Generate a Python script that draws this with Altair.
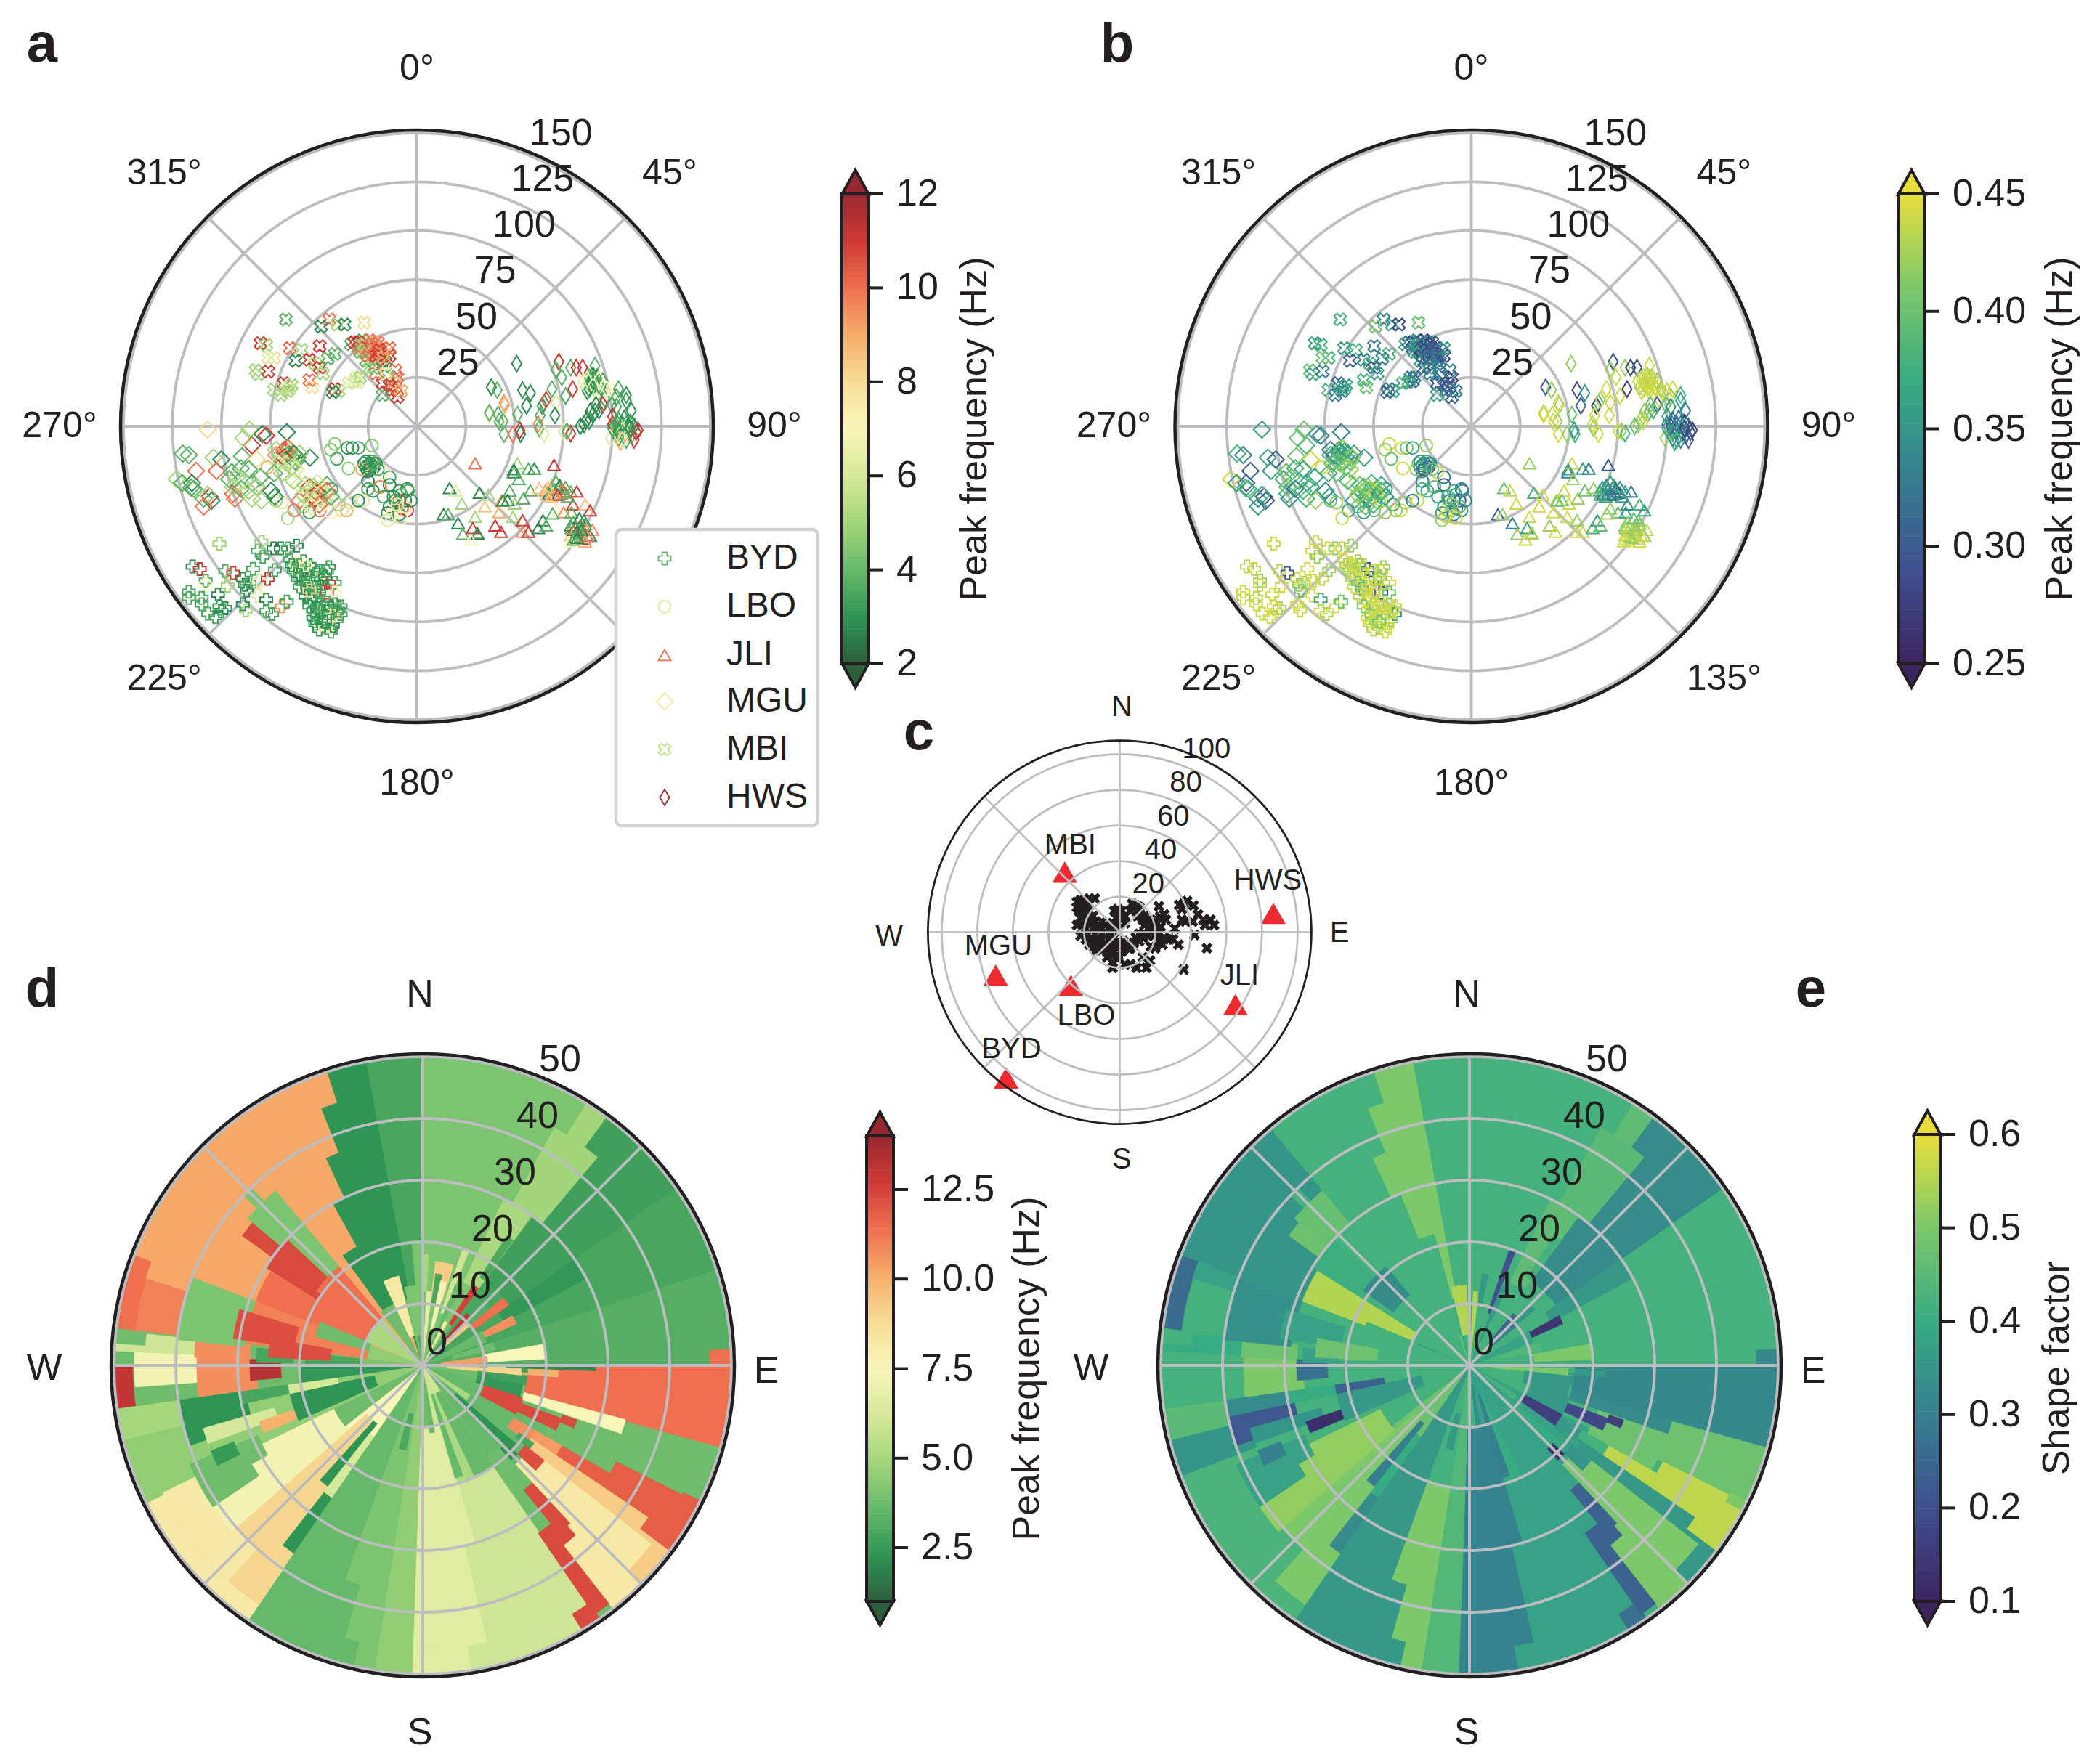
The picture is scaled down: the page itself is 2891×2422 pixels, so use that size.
import math
import numpy as np
import pandas as pd
import altair as alt

W, H = 2891, 2422
FONT = "Liberation Sans"
INK = "#231f20"
GRID = "#bcbdc0"

PF_RAMP = ["#2c5e3c","#2f9555","#66b96a","#a3d67a","#d6e89a","#f7f5b8","#f6dd95","#f6ad6a","#ef6f4f","#ce3a36","#96282f"]
SF_RAMP = ["#3b2560","#40508f","#357f8f","#37ab82","#7cc86a","#e8df3c"]

# station, east, north (distance units of the radial axis), peak frequency, shape factor
BYD = [(-101,-60,5,.44),(-114.7,-71.7,2.8,.43),(-111,-73,11,.44),(-94,-75,11,.30),(-98,-74,3.8,.44),(-108,-79,3.5,.42),(-108,-81,7,.44),
(-116.6,-84.6,3.5,.44),(-116.6,-87.7,3.5,.44),(-110,-87.7,3.5,.43),(-110,-91,3.5,.44),(-101.7,-86,2.8,.44),(-96.8,-81.5,5,.44),(-83.8,-72.9,3.5,.44),
(-106.7,-95.8,3.5,.44),(-103,-97.6,3.5,.44),(-100,-94.5,3,.44),(-98,-93,3,.43),(-101,-92,3,.44),(-87.5,-94,5,.44),(-89,-91,2.8,.44),(-88,-81,2.8,.42),
(-87,-84,2.8,.40),(-89,-78,2.8,.44),(-85.6,-80,3.5,.43),(-81.3,-86.5,6.2,.44),(-80.7,-79,6.2,.44),(-76.3,-78,11,.44),(-72.6,-73.5,3.5,.42),(-77,-88.6,2.8,.38),
(-77,-94.5,3.5,.44),(-74,-96,3.5,.43),(-69,-92,9.5,.44),(-66.5,-89.6,3.5,.40),(-81.3,-63.6,3.5,.44),(-78.8,-66.7,3.5,.42),(-79.5,-59,5,.44),(-73.3,-62.4,2.8,.44),
(-69.6,-62.4,2.8,.42),(-66,-62.4,3.5,.44),(-61.5,-61,2.8,.42),
(-65,-68,3.5,.44),(-62,-70,7,.44),(-58,-69,3.5,.43),(-55,-71,3,.44),(-63,-74,3.5,.42),(-59,-73,8,.44),(-56,-75,3.5,.44),(-53,-73,3,.30),(-50,-74,3.5,.44),
(-61,-78,3.5,.43),(-57,-78,3,.44),(-53,-78,8,.44),(-49,-78,3.5,.28),(-60,-82,3.5,.44),(-56,-83,3,.38),(-52,-82,3.5,.44),(-48,-82,3,.44),(-57,-87,3,.43),
(-53,-86,3.5,.44),(-46,-85,11,.30),(-42,-80,3.5,.44),(-45,-72,3,.42),(-45,-80,11,.44),(-42,-85,7,.40),(-46,-74,3.5,.44),
(-54,-89,3,.44),(-50,-91,3,.43),(-46,-90,3.5,.44),(-42,-91,3,.42),(-39,-92,3.5,.44),(-53,-94,3,.44),(-49,-95,3.5,.43),(-45,-95,8,.44),(-41,-95,3,.44),(-39,-96,3.5,.36),
(-53,-98,3,.44),(-49,-100,3.5,.43),(-45,-99,3,.44),(-41,-99,3.5,.42),(-52,-101,3,.44),(-47,-103,8,.43),(-43,-102,3,.44),(-50,-94,3.5,.44),(-55,-92,3,.40),
(-64,-71,3,.43),(-60,-71,3.5,.44),(-57,-71,7,.42),(-60,-76,3,.44),(-55,-80,3.5,.44),(-51,-76,3,.43),(-58,-80,3,.40),(-50,-85,3.5,.44),(-47,-77,3,.42),(-55,-84,8,.44),
(-51,-93,3,.44),(-47,-93,3.5,.44),(-44,-93,3,.43),(-51,-97,3.5,.42),(-47,-97,3,.44),(-43,-97,8,.44),(-47,-100,3,.40),(-44,-105,3.5,.44),(-50,-104,3,.43),(-40,-94,3.5,.44)]
LBO = [(-42,-9,4.5,.44),(-44,-12,4.5,.42),(-41,-16.6,3.5,.40),(-35.5,-11,2.8,.44),(-33,-11,2.8,.40),(-30,-11,3.5,.36),(-23,-9.8,4.5,.42),(-35,-21.5,4.5,.44),(-76.4,-21,9,.44),
(-24,-19,2.8,.33),(-26,-21,3,.36),(-22,-21,2.8,.30),(-23,-18,3.5,.38),(-27,-19,2.8,.40),(-21,-19,3,.33),(-25,-23,2.8,.35),(-28,-22,9,.42),(-17.6,-23.4,7,.44),(-14,-26,3.5,.33),
(-19,-31,10,.36),(-25,-28,2.8,.33),(-14,-30,2.8,.30),(-9,-33,3,.38),(-5,-32,2.8,.33),(-12.6,-43,6.2,.44),(-9,-38,11,.36),(-7.7,-42,11,.33),(-14,-41,2.8,.33),(-15,-44.4,2.8,.36),
(-10,-43,8,.40),(-5,-43,11,.35),(-22.5,-33,2.8,.36),(-18.8,-31,9.5,.40),(-25,-32,3.5,.38),(-27.5,-38,6.2,.44),(-15,-48,6.2,.42),(-36,-43,9,.44),(-38.5,-43,8,.42),(-49.7,-43,10,.40),
(-53.5,-36,5,.38),(-62.7,-43,10,.36),(-69,-39,6.2,.42),(-66,-47,5,.44),(-72,-38,5,.40),(-43.6,-32,3.5,.36),(-46,-38,6.2,.44),(-33.7,-39,6.2,.42),(-30,-38,2.8,.33),(-4.6,-33,3.5,.33),
(-58,-41,5,.40),(-55,-44,3.5,.36),(-44,-44,7,.42),(-40,-40,5,.38),
(-25,-20,3,.33),(-24,-22,2.8,.30),(-22,-19,3.5,.36),(-26,-18,3,.35),(-20,-22,3.5,.40),(-11,-38,2.8,.33),(-8,-35,3.5,.36),(-12,-36,3,.38),(-6,-38,2.8,.30),(-13,-46,7,.44),(-9,-45,3,.33),(-6,-41,8,.40),(-10,-40,6.2,.42),(-8,-47,7,.44),(-17,-36,3.5,.36),(-3,-38,3,.33)]
JLI = [(29.7,-19,10,.42),(16.7,-31.6,2.8,.40),(19.8,-32.8,6.2,.44),(13.6,-45,2.8,.30),(16,-45,3.8,.42),(21,-49.5,2.8,.33),(23,-39.6,5,.44),(29.7,-46.4,5,.44),(23.5,-55,3.8,.42),
(28.5,-52,11,.36),(31,-54.5,3.8,.44),(31,-55,2.8,.42),(27.6,-58,7,.44),(32,-34,2.8,.38),(36.5,-35,5,.44),(34.7,-41,8.5,.44),(43.3,-38,9.5,.44),(44,-38,2.8,.40),(49.5,-23.5,2.8,.33),
(51.4,-19,5,.44),(49.5,-22,2.8,.36),(52,-27,3.8,.42),(47.4,-33,3.8,.44),(46.4,-37.7,2.8,.40),(50,-39.6,5,.44),(54.4,-37,3.8,.42),(58,-32.8,3.8,.40),(57,-21.7,3.8,.36),(60,-21.7,2.8,.33),
(70,-19.8,11,.30),(42,-44,9,.44),(49,-46.4,5,.44),(40,-50.7,11,.42),(43,-54,11,.44),(54,-48,11,.42),(54,-54,9.5,.44),(57,-54,11,.44),
(69,-30,9,.33),(72,-31.6,3.8,.36),(75,-33.4,11,.30),(76,-34,9.5,.33),(78.6,-33.4,3.8,.36),(65.6,-32.8,9.5,.38),(67.4,-34.6,2.8,.33),(71,-28,3.8,.36),(81.7,-33.4,11,.33),(62.5,-31.6,8.5,.42),
(73.6,-34.6,3.8,.33),(68.7,-36,8.5,.36),(79.8,-40,11,.34),(86,-40,8.5,.38),(88.5,-43,11,.36),(71,-42,7,.42),(75,-44,9.5,.40),(79,-44,3.8,.36),(69.3,-44.6,3.8,.42),(64.4,-48,2.8,.36),
(62,-52,2.8,.38),(66,-50.7,3.8,.40),(78.6,-50.7,2.8,.42),(81,-52,3.8,.44),(83.5,-50.7,11,.42),(85.4,-48,2.8,.40),(86.6,-53,9.5,.43),(89.7,-53,9.5,.44),(88.5,-56,2.8,.42),(85.4,-57.5,11,.44),
(78.6,-55.7,8.5,.44),(81,-56.5,2.8,.40),(78,-58.8,7,.44),(83.5,-53,3.8,.42),
(70,-32,3.8,.34),(73,-30,2.8,.36),(74,-32,10,.30),(67,-31,8.5,.36),(70,-35,9.5,.33),(76,-31,3.8,.35),(72,-35,11,.32),(66,-35,8.5,.38),(77,-36,3.8,.36),
(80,-49,3.8,.42),(82,-54,2.8,.44),(84,-55,3.8,.43),(80,-53,11,.44),(86,-50,3.8,.42),(83,-47,2.8,.40),(87,-56,10,.44),(84,-53,2.8,.42),(80,-58,3.8,.44),(86,-59,9,.44),(79,-52,3.8,.42),(82,-57,2.8,.42)]
MGU = [(-107,-1.7,8,.36),(-85.6,-1.7,5,.40),(-66.5,-3,2.8,.33),(-79,-4,2.8,.36),(-77,-4.8,11,.33),(-84.4,-9.8,11,.38),(-88.7,-6,5,.40),(-67.7,-12,11,.36),(-61.5,-16,2.8,.33),(-72,-14.7,9.5,.38),
(-54.7,-16,2.8,.35),(-89.4,-15.3,3.8,.40),(-104,-16,5,.36),(-100,-17,2.8,.30),(-119.7,-14,3.8,.38),(-116.6,-14.7,3.8,.33),(-112.9,-22.8,10,.30),(-102.4,-22.8,10,.36),(-82,-17,8,.44),(-94.6,-23.4,3.8,.40),
(-90,-21.5,3.8,.38),(-86,-22,3.8,.36),(-122.8,-27,5,.44),(-120,-29,5,.44),(-115,-29,2.8,.30),(-115.4,-31.4,3.8,.38),(-106,-36,11,.28),
(-68,-13,11,.36),(-66,-15,3.8,.38),(-70,-15,5,.33),(-64,-16,2.8,.36),(-62,-18,3.8,.40),(-60,-14,5,.38),(-66,-11,10,.42),(-72,-12,5,.33),
(-55,-31,11,.38),(-52,-33,5,.42),(-49,-32,6.2,.44),(-54,-36,10,.36),(-50,-36,5,.44),(-47,-35,6.2,.38),(-46,-30,3.8,.36),(-56,-34,5,.40),(-51,-29,6.2,.38),(-52,-37,11,.33),(-60,-38,10,.36),
(-109,-37,3.8,.35),(-105,-38,2.8,.30),(-107,-35,5,.38),(-109,-41,10,.36),(-94,-34.5,10,.38),(-93,-37,10,.33),(-84.4,-37,5,.38),(-79.5,-38,5,.42),(-74.5,-33,2.8,.33),(-72.6,-36,2.8,.36),(-82,-31,10,.40),
(-114,-32,3.8,.38),(-120,-29,3.8,.36),(-96,-27,3.8,.38),(-92,-26,5,.40),(-88,-28,5,.38),(-84,-29,3.8,.36),(-94,-31,5,.40),(-90,-32,3.8,.33),(-86,-33,5,.38),(-80,-26,3.8,.36),(-82,-31,5,.38),
(-67,-13,10,.38),(-65,-13,5,.36),(-69,-17,3.8,.40),(-63,-14,2.8,.36),(-65,-18,5,.38),(-67,-19,6.2,.40),(-61,-16,3.8,.42),(-68,-16,11,.36),(-64,-21,5,.42),(-71,-19,6.2,.40),(-62,-22,6.2,.42),(-73,-24,3.8,.38),(-69,-24,5,.40),
(-53,-31,5,.42),(-51,-34,11,.40),(-49,-34,6.2,.44),(-53,-34,6.2,.38),(-48,-38,5,.42),(-55,-38,6.2,.40),(-46,-33,10,.38),(-58,-35,5,.42),(-44,-36,3.8,.36),(-50,-40,10,.38),(-54,-41,6.2,.40),(-57,-30,5,.40),(-60,-30,6.2,.42),(-63,-28,5,.38)]
MBI = [(-67,54.6,3.8,.38),(-44.8,54.6,10,.33),(-49,51,2.8,.40),(-40.6,52,5,.36),(-37,52,2.8,.28),(-27,53,8,.40),(-80,42.5,11,.36),(-77,41.6,5,.38),(-65,40,10,.36),(-59,39,5,.38),(-49.7,41,11,.33),
(-62,33.5,2.8,.30),(-73,35,8,.38),(-76,35,6.2,.40),(-82.5,28.6,5,.40),(-81,26.7,5,.36),(-76,28,11,.33),(-68,22,11,.30),(-73,18.7,5,.38),(-69.5,16,5,.33),(-66,20,6,.36),(-65,19,6,.38),(-66,18,5,.33),(-64,21,5,.36),
(-55,23.6,10,.38),(-53.6,20,8,.40),(-55,34,11,.33),(-52,32,5,.38),(-49.7,30,11,.30),(-48,27,5,.36),(-42,37,3.8,.38),(-45.5,34.6,3.8,.33),(-42,19,11,.33),(-40,18,5,.36),(-43,17.5,2.8,.30),(-33.7,42,3.8,.36),
(-31,25,6.2,.33),(-30,23,6.2,.30),(-32,23,6,.36),(-29,25,5,.33),(-35,22,6.2,.38),
(-32,43,11,.33),(-30,40,10,.30),(-28,44,3.8,.36),(-26,41,11,.30),(-24,44,10,.28),(-22,40,11,.33),(-20,43,10,.30),(-18,40,9,.28),(-27,38,9,.33),(-23,38,10,.30),(-19,37,11,.28),(-16,39,9,.33),
(-17.6,33.5,2.8,.28),(-20,34,11,.30),(-16,33,2.8,.33),(-14,36,11,.28),(-22,30,3.8,.36),(-14,40,10,.36),(-17.6,22,11,.30),(-12.6,18.7,11,.33),(-10,25,10,.28),(-11,28.6,10,.33),(-15,26,3.8,.30),(-17.6,16,3.8,.36),
(-10,15,11,.30),(-26,33.5,3.8,.36),(-21,27,10,.33),(-24,30,5,.30),(-16,27,6.2,.33),
(-30,43,11,.30),(-28,41,10,.33),(-26,39,9,.28),(-24,41,11,.30),(-22,43,9,.33),(-21,41,10,.28),(-29,38,3.8,.36),(-25,36,10,.30),(-21,36,11,.33),(-18,37,9,.30),(-27,42,5,.36),(-23,42,10,.28),(-19,39,11,.30),(-17,35,9,.33),(-12,22,9,.28),(-11,20,10,.30),(-14,21,11,.30),(-8,18,9,.33)]
HWS = [(51,32,2.8,.42),(38,20,2.8,.30),(41,18.5,3.8,.42),(44.5,12,9.5,.44),(45,11,9,.43),(54,18.5,2.8,.28),(58,17,2.8,.35),(56,10.5,2.8,.30),(69,19,3.8,.44),(65,12,2.8,.38),(64,10.5,3,.28),(66,13.6,10.5,.43),
(71,12,6.2,.44),(76,15.5,3.5,.44),(72.5,33,11,.30),(71,29,3.8,.42),(74,25,3.8,.44),(78.6,30,3.8,.42),(81.4,30,11,.28),(84.7,30,11,.30),(91,31,3.8,.44),(79.6,19,11,.27),
(90,24,3,.44),(88,22,3.5,.43),(92,22,6.5,.44),(90,20,3,.44),(86,20,6.5,.42),(94,20,3.5,.44),(88,25,3.5,.44),(92,25,3,.43),(87,18,3,.44),(91,18,6.5,.44),(95,23,3.5,.42),(85,23,6.5,.44),
(98,17,7,.44),(96,14,3.5,.44),(100,18,7,.44),(102,15,3.8,.42),(103,19,3.5,.44),(107,16,3,.38),(107,13,3,.36),(109.5,8,3,.33),(95,11,11,.30),(91.5,11,3,.40),(88.5,7.5,2.8,.42),(90,6,3,.44),(91,7.5,2.8,.40),(87,3.7,2.8,.42),(88,2.5,3,.44),(85.4,1,2.8,.42),(93,8,3,.38),(99.6,11,3.5,.40),(102,10,3.5,.36),
(100,1,11,.33),(103,3,3.5,.30),(106,4,3,.33),(109,2,3.5,.28),(111,0,3,.33),(104,-1,3.5,.36),(108,-3,8,.33),(106,-5,3,.30),(101,-3,3.5,.38),(103,-6,3,.33),(110,-4,3.5,.30),(112,-3,11,.28),(100,5,11,.36),(113,-2,11,.28),(111,-7,11,.30),(99,-6,6.2,.42),(104,-8,9,.36),
(44.5,-4,3.8,.44),(49,-4,10,.42),(53,-4,2.8,.38),(52.6,-2,11,.36),(37,6,6.2,.44),(37,7,3.8,.44),(42,2.5,3.8,.44),(44,2.5,3.8,.42),(41.5,6,3.8,.44),(51.4,6,3.8,.40),(62,1.2,9.5,.44),(62.5,-1,3.8,.42),(65,-4,6.2,.44),(70.5,5.6,2.8,.44),(63,5.6,3.8,.44),(75,-2.5,6.2,.44),(78.6,-3.7,11,.38),(76.7,-2.5,3.8,.42),(83.5,0,2.8,.40),
(89,23,3,.44),(91,23,3.5,.44),(89,21,3,.43),(91,20,6.5,.44),(88,19,3,.44),(93,21,3.5,.44),(90,26,3,.43),(87,24,6.5,.44),(93,24,7,.44),(97,19,7,.43),
(102,2,3.5,.33),(105,1,3,.30),(107,1,3.5,.33),(108,0,3,.36),(105,-2,8,.33),(102,0,3.5,.30),(103,-3,3,.36),(107,-7,3.5,.33),(105,-7,6.2,.38),(109,-1,3,.28),(100,-1,3.5,.36)]

STATIONS = ["BYD","LBO","JLI","MGU","MBI","HWS"]
STATION_POINTS = [BYD,LBO,JLI,MGU,MBI,HWS]
LEGEND_PF = [3.9,6.2,10,7.6,5.6,11.8]

# c: stations (azimuth, distance) and event epicentres (east, north) in km
ST_AZ = [217.9,222.5,122,250.9,317.6,83]
ST_R = [103.8,40.5,76.7,73.7,45.8,87]
ST_LABEL_DX = [-149,-46,165,-167,-68,204]
ST_LABEL_DY = [-161,-115,-60,-19,120,71]
EVENTS = [(-24,17),(-22,18),(-20,18),(-17,19),(-14,19),(-24,14),(-22,15),(-20,15),(-18,14),(-23,12),(-21,11),(-19,11),(-17,12),(-15,9),(-22,8),(-20,8),(-18,8),(-16,7),(-24,4),(-21,5),(-19,5),(-17,4),(-14,6),(-12,4),(-10,6),(-8,4),(-6,2),(-11,2),(-15,2),(-19,2),(-22,-2),(-18,-1),(-14,-1),(-10,-1),(-6,-1),(-3,1),
(-19,-4),(-16,-5),(-13,-4),(-10,-4),(-6,-4),(-3,-3),(-17,-7),(-14,-8),(-11,-7),(-8,-7),(-5,-7),(-2,-6),(-13,-10),(-10,-10),(-7,-11),(-4,-10),(-1,-9),(-7,-14),(-4,-13),(-1,-13),(1,-11),(-4,-17),(-1,-15),(1,-8),(3,-8),(5,-9),(2,-5),
(-3,12),(-1,13),(1,12),(-2,8),(1,9),(3,9),(-4,5),(-1,5),(3,5),(6,12),(8,14),(9,15),(11,14),(10,9),(13,7),(12,9),(14,4),(16,2),(19,2),(11,-1),(9,-3),(13,-1),(16,-2),(11,-5),(8,-6),(19,-2),(22,-1),(25,-3),(22,-5),(24,-7),
(22,14.6),(22.6,8.7),(23,3),(20,-1),(26,7),(25,10),(21,5),(33.5,15.3),(36,16),(35,13),(38,17.5),(41.5,15),(35,7),(37,6),(44,10),(47,7),(51,7),(53,4),(48,4),(41,6),(42,-1.5),(49,-9),(31,2),(30,-4),(33,-7),(28,-4),(36,-21),
(-4,-20),(3,-18),(6,-18),(9.5,-20),(15,-20),(17,-16),(13,-14),(17.5,-8),(20,-9),(10,-4),(6,-9),(13,-3),(7,16),(10,14.6),(14,9),(16,6.5),(17.5,7)]

# d/e: az0, az1, r0, r1, peak frequency, shape factor (drawn in order)
PATCHES = [
(0,360,0,50,3.8,.42),(0,32,0,50,4.1,.42),(36.5,72,0,50,2.9,.42),(72,90,0,50,3.2,.42),(36.5,55,17,50,2.7,.33),(55,62,15,30,2.4,.36),
(32,36.5,36,50,4.9,.46),(29,40,30,44,4.9,.45),(26,36,15,30,5.1,.46),(33,36,17,25,3,.42),(19,22,9,20,6.0,.2),(87,90,46.5,50,11.4,.32),
(90,92,28,50,11.4,.32),(90,92,14,28,2.0,.33),(92,105.5,17,50,11.4,.32),(92,95,16,22,10,.36),(105,120,0,22,3.6,.42),
(105.5,116.5,34,50,3.8,.48),(109,120,22,34,3.8,.48),(105,109,17,34,7.5,.33),(109.5,112.5,24,26.5,12.3,.16),(111,116,17,24,12.3,.18),
(118,145,0,22,3.6,.38),(120,127,26,35,11.8,.56),(116.5,127,35,50,11.8,.56),(116,118,47,50,11.8,.5),(120,124,20,26,10.5,.42),
(124,128,20,44,9.3,.36),(127,135,44,50,9.3,.36),(128,137,22,47,8.2,.5),(135,142,34,50,8.2,.5),
(145,170,0,50,6.0,.38),(137,145,18,34,3.8,.38),(147,174.5,46,50,6.0,.38),(145,149,47,50,12.3,.27),(142,145.5,36,49,12.3,.24),(138,145.5,33,37,12.3,.24),(137,141,26,35,12.3,.24),
(171,182,46,50,6.6,.31),(167,182,30,46,6.6,.31),(163.5,182,10,30,6.6,.31),(155,163.5,5,20,5.1,.4),(145,155,5,20,3.6,.38),(160,164,5,19,3.6,.3),(170,174,3,11,3.6,.33),
(182,189,0,50,4.5,.44),(189,193,46,50,4.1,.5),(189,196,37,46,4.1,.5),(189,200,20,37,4.1,.5),(189,200,0,20,4.1,.42),(191,196,8,14,3,.36),
(193,196,46,50,3.6,.36),(196,214.4,37,50,3.6,.36),(200,214.4,0,37,3.6,.36),
(214.4,232,0,16,7.5,.48),(214.5,218,24,37,2.3,.33),(218,222,12,25,2.3,.3),(214.5,218,14,26,6.2,.4),(222,229,12,40,9.0,.5),(218,222,25,40,9.0,.5),
(214.4,247.5,40,47,8.2,.43),(214.4,243.5,47,50,8.2,.43),(214.5,222,37,47,9.0,.5),(229,244,16,41,7.3,.52),(232,246,0,16,3.8,.42),
(244,262,0,50,4.5,.42),(244,249,37,50,4.5,.43),(249,256,37,50,4.5,.35),(256,262,40,50,5.0,.45),(243.5,247.5,47,50,4.5,.43),
(236,247,32,41,3.8,.38),(240,247,29,32,3.8,.38),(244,248,33,37,2.5,.3),
(251,258,29,40,2.3,.22),(258,265,29,40,2.3,.33),(262,267,40,50,2.9,.3),(258,267,20,30,2.9,.4),(250,254,25,37,6.2,.35),(247,251,19,28,10,.12),(246,258,8,22,2.3,.36),(258,264,14,22,6.2,.24),
(262,277,0,50,3.8,.42),(262,272,27,36.7,10.75,.5),(265.7,272.7,36.7,46.7,7.3,.42),(262,270,47,50,13.0,.42),(265,272,23,28,13.3,.27),
(272.7,276.5,37,45,6,.4),(272.7,274,45,50,6,.4),(272,277,28,37,10.75,.48),(271,276,21,27,2.9,.38),(270,276,10,19,2.9,.42),(270,277,0,10,4.1,.42),(262,270,0,20,2.4,.42),
(277,291,0,50,11,.42),(276,291,29,40,4.1,.34),(277,291,47,50,11.4,.26),(278,287,21,31,12.2,.38),(273,280,15,25,12.2,.48),
(291,320,0,50,10.2,.35),(287.5,291,40,47,10.2,.38),(291,302,10,29,11.4,.55),(285,293,9,18,3.8,.42),(277,291,0,9,4.5,.42),
(302,313,20,30,12.3,.41),(305.7,312.5,30,36,12.3,.48),(313.5,316,37,40,4.1,.42),(310,320,30,37,4.1,.47),(313,320,18,30,4.1,.42),(302,322,10,20,11.4,.42),(305,320,15,21,11.4,.33),
(293,322,0,10,5.1,.42),
(320,342,0,50,10.2,.42),(342,349.5,0,50,2.3,.5),(338.5,349.5,37,44.7,2.3,.5),(335,349.5,30,37,2.3,.5),(338,349.5,22,30,2.3,.5),(331,338,22,30,2.3,.42),(324,345,11,22,2.3,.42),
(349.5,360,0,50,2.9,.42),(355,360,0,20,4.1,.42),(322,335,0,11,3.8,.42),(335,345,5,15,8.2,.42),(345,350,0,11,3.8,.40),(347,358,5,13,4.1,.55),
(0,3,12,18,5,.42),(3,7,0,12,6.6,.55),(7,17,11,17,9.3,.42),(8,12,10,15,2.9,.36),(12,16,6,14,7.3,.42),(22,26,0,14,3.6,.36),(26,30,0,8,8.2,.42),
(32,36,8,15.4,12.5,.42),(40,44,5,11,13,.25),(44,50,6,14,3.2,.36),(50,55,10,17,11.4,.42),(46,50,4,10,9.3,.30),(61,66,11,16.6,10.75,.14),(60,70,0,11,3.6,.38),(72,78,5,12,3.8,.44),
(80,87,10,20,7.5,.5),(82,88,3,10.5,10.4,.42),(91,94,5,10.5,13.3,.42),(91,93,10.5,13.5,6.2,.42),(91,94,13.5,17,2.7,.42),(92,96,4,16,9.0,.5),(96,101,9,17,2.7,.36),(101,108,9,16.5,2.4,.36),(108,118,10.5,17,12.3,.36),
(118,125,10,17,3.6,.16),(120,126,17,21,10.75,.36),(125,128,19,22,2.9,.38),(128,133,21,25,12.2,.35),(130,134,7,20,2.3,.4),(133,137,18.5,21,2.2,.14),(122,128,0,9,5.1,.42),
]

PF_TICKS_A = [2,4,6,8,10,12]
SF_TICKS_B = [.25,.30,.35,.40,.45]
PF_TICKS_D = [2.5,5,7.5,10,12.5]
SF_TICKS_E = [.1,.2,.3,.4,.5,.6]

XS = alt.Scale(domain=[8, W-8], range=[0, W-16], nice=False, zero=False)
YS = alt.Scale(domain=[8, H-8], range=[0, H-16], nice=False, zero=False)
X = alt.X("x:Q", scale=XS, axis=None)
Y = alt.Y("y:Q", scale=YS, axis=None)
FS = 52

def ramp(lo, hi, colors):
    return alt.Scale(domain=[float(v) for v in np.linspace(lo, hi, len(colors))], range=colors, clamp=True, interpolate="rgb")

def polar(cx, cy, k, az, r):
    a = math.radians(az)
    return cx + k*r*math.sin(a), cy - k*r*math.cos(a)

def text(rows, size, color=INK, align="center", angle=0, weight="normal"):
    df = pd.DataFrame(rows, columns=["x","y","t"])
    return alt.Chart(df).mark_text(font=FONT, fontSize=size, color=color, align=align, baseline="middle", angle=angle, fontWeight=weight).encode(X, Y, text="t:N")

def rings(cx, cy, radii, color, sw):
    df = pd.DataFrame({"x":[cx]*len(radii),"y":[cy]*len(radii),"s":[(2*r)**2 for r in radii]})
    return alt.Chart(df).mark_point(shape="circle", filled=False, stroke=color, strokeWidth=sw, opacity=1).encode(X, Y, size=alt.Size("s:Q", scale=None, legend=None))

def spokes(cx, cy, R, sw):
    rows = []
    for az in range(0, 360, 45):
        x2, y2 = polar(cx, cy, 1, az, R)
        rows.append({"x":cx,"y":cy,"x2":x2,"y2":y2})
    return alt.Chart(pd.DataFrame(rows)).mark_rule(color=GRID, strokeWidth=sw).encode(X, Y, x2="x2:Q", y2="y2:Q")

X_SHAPE = "M-1,-.5 L-.5,-1 L0,-.5 L.5,-1 L1,-.5 L.5,0 L1,.5 L.5,1 L0,.5 L-.5,1 L-1,.5 L-.5,0 Z"
SHAPES = {
 "BYD":("cross",17), "LBO":("circle",17), "JLI":("triangle-up",17), "MGU":("diamond",23),
 "MBI":(X_SHAPE,17),
 "HWS":("M0,-1 L.6,0 L0,1 L-.6,0 Z",22),
}

def scatter(cx, cy, k, field, scale):
    out = []
    for name, pts in zip(STATIONS, STATION_POINTS):
        df = pd.DataFrame(pts, columns=["e","n","pf","sf"])
        df["x"] = cx + k*df.e
        df["y"] = cy - k*df.n
        shape, w = SHAPES[name]
        out.append(alt.Chart(df).mark_point(shape=shape, size=w*w, filled=False, strokeWidth=2, opacity=1)
                   .encode(X, Y, color=alt.Color(f"{field}:Q", scale=scale, legend=None)))
    return out

def azimuth_panel(cx, cy, field, scale):
    k = 404/150
    ls = [rings(cx, cy, [k*v for v in (25,50,75,100,125,150)], GRID, 3.8), spokes(cx, cy, 406, 3.8), rings(cx, cy, [408], INK, 4.5)]
    ls += scatter(cx, cy, k, field, scale)
    labs = []
    for az in range(0, 360, 45):
        x, y = polar(cx, cy, 1, az, 492)
        labs.append((x, y, f"{az}°"))
    ls.append(text(labs, 50))
    ticks = [(cx+2+1.02*v, cy-24-2.53*v, str(v)) for v in (25,50,75,100,125,150)]
    ls.append(text(ticks, FS, align="left"))
    return ls

def rose_panel(cx, cy, field, scale, compass):
    df = pd.DataFrame(PATCHES, columns=["az0","az1","r0","r1","pf","sf"])
    df["x"] = cx
    df["y"] = cy
    arcs = alt.Chart(df).mark_arc(strokeWidth=0.8).encode(
        X, Y,
        theta=alt.Theta("az0:Q", stack=False, scale=alt.Scale(domain=[0,360], range=[0, 2*math.pi])),
        theta2="az1:Q",
        radius=alt.Radius("r0:Q", scale=alt.Scale(type="linear", domain=[0,50], range=[0,425])),
        radius2="r1:Q",
        color=alt.Color(f"{field}:Q", scale=scale, legend=None),
        stroke=alt.Stroke(f"{field}:Q", scale=scale, legend=None),
    )
    ls = [arcs, rings(cx, cy, [85*i for i in range(1,6)], GRID, 3.8), spokes(cx, cy, 427, 3.8), rings(cx, cy, [429], INK, 4.5)]
    ticks = [(cx+5+3.1*v, cy-31-7.8*v, str(v)) for v in (0,10,20,30,40,50)]
    ls.append(text(ticks, FS, align="left"))
    ls.append(text([(cx+dx, cy+dy, t) for dx, dy, t in compass], FS))
    return ls

def colorbar(x0, x1, top, bot, lo, hi, colors, field, ticks, fmt, over, under, title, title_x):
    scale = ramp(lo, hi, colors)
    vals = np.linspace(lo, hi, 97)
    ypos = lambda v: bot - (v-lo)/(hi-lo)*(bot-top)
    rows = [{"x":x0,"x2":x1,"y":ypos(vals[i+1])-0.6,"y2":ypos(vals[i]),field:float((vals[i]+vals[i+1])/2)} for i in range(96)]
    bar = alt.Chart(pd.DataFrame(rows)).mark_rect().encode(X, Y, x2="x2:Q", y2="y2:Q", color=alt.Color(f"{field}:Q", scale=scale, legend=None))
    w = x1-x0
    tips = []
    for color, shape, y in ((over,"M-1,.9 L0,-.9 L1,.9 Z",top-16), (under,"M-1,-.9 L0,.9 L1,-.9 Z",bot+16)):
        tips.append(alt.Chart(pd.DataFrame({"x":[(x0+x1)/2],"y":[y]})).mark_point(shape=shape, size=w*w, filled=True, fill=color, stroke=INK, strokeWidth=4, opacity=1).encode(X, Y))
    frame = alt.Chart(pd.DataFrame({"x":[x0],"x2":[x1],"y":[top],"y2":[bot]})).mark_rect(fillOpacity=0, stroke=INK, strokeWidth=4).encode(X, Y, x2="x2:Q", y2="y2:Q")
    tk = alt.Chart(pd.DataFrame({"x":[x1]*len(ticks),"x2":[x1+20]*len(ticks),"y":[ypos(v) for v in ticks]})).mark_rule(color=INK, strokeWidth=4).encode(X, Y, x2="x2:Q")
    labs = text([(x1+38, ypos(v), fmt.format(v)) for v in ticks], FS, align="left")
    ttl = text([(title_x, (top+bot)/2, title)], FS, angle=270)
    return tips + [bar, frame, tk, labs, ttl]

pf_a = ramp(2, 12, PF_RAMP)
sf_b = ramp(.25, .45, SF_RAMP)
pf_d = ramp(1, 14, PF_RAMP)
sf_e = ramp(.1, .6, SF_RAMP)

layers = []
layers += azimuth_panel(574, 587, "pf", pf_a)
layers += azimuth_panel(2025.5, 587, "sf", sf_b)

# legend box on top of panel a
layers.append(alt.Chart(pd.DataFrame({"x":[848],"x2":[1126],"y":[729],"y2":[1137]})).mark_rect(fill="white", stroke="#d1d2d4", strokeWidth=4.5, cornerRadius=8).encode(X, Y, x2="x2:Q", y2="y2:Q"))
LEG_Y = [769,835,902,966,1032,1098]
for name, y, v in zip(STATIONS, LEG_Y, LEGEND_PF):
    shape, w = SHAPES[name]
    layers.append(alt.Chart(pd.DataFrame({"x":[915],"y":[y],"pf":[v]})).mark_point(shape=shape, size=w*w, filled=False, strokeWidth=1.8, opacity=1).encode(X, Y, color=alt.Color("pf:Q", scale=pf_a, legend=None)))
layers.append(text([(1000, y, n) for y, n in zip(LEG_Y, STATIONS)], 48, align="left"))

# panel c
CCX, CCY, CK = 1541.4, 1283.6, 2.45
ev = pd.DataFrame(EVENTS, columns=["e","n"])
ev["x"] = CCX + CK*ev.e
ev["y"] = CCY - CK*ev.n
st_rows = [dict(zip(("x","y"), polar(CCX, CCY, CK, a, r))) for a, r in zip(ST_AZ, ST_R)]
layers.append(alt.Chart(ev).mark_point(shape=X_SHAPE, size=240, filled=True, fill=INK, strokeWidth=0, opacity=1).encode(X, Y))
layers.append(alt.Chart(pd.DataFrame(st_rows)).mark_point(shape="triangle-up", size=1156, filled=True, fill="#ee2a2e", strokeWidth=0, opacity=1).encode(X, Y))
layers.append(rings(CCX, CCY, [CK*v for v in (20,40,60,80,100)], GRID, 2.8))
layers.append(spokes(CCX, CCY, 263, 2.8))
layers.append(rings(CCX, CCY, [264], INK, 2.8))
layers.append(text([(CCX+dx, CCY-dy, n) for dx, dy, n in zip(ST_LABEL_DX, ST_LABEL_DY, STATIONS)], 40))
layers.append(text([(CCX+0.86*v, CCY-19-2.33*v, str(v)) for v in (20,40,60,80,100)], 40, align="left"))
layers.append(text([(CCX+3, 974, "N"), (1844, 1285, "E"), (CCX+3, 1597, "S"), (1224, 1290, "W")], 40))

# panels d and e
COMPASS = [(-4,-510,"N"),(473,8,"E"),(-4,506,"S"),(-521,4,"W")]
layers += rose_panel(582, 1880, "pf", pf_d, COMPASS)
layers += rose_panel(2023, 1880, "sf", sf_e, COMPASS)

# colour bars
layers += colorbar(1159,1196,267,914,2,12,PF_RAMP,"pf",PF_TICKS_A,"{:d}","#96282f","#2c5e3c","Peak frequency (Hz)",1342)
layers += colorbar(2613,2650,267,914,.25,.45,SF_RAMP,"sf",SF_TICKS_B,"{:.2f}","#e8df3c","#3b2560","Peak frequency (Hz)",2836)
layers += colorbar(1193,1230,1564,2205,1,14,PF_RAMP,"pf",PF_TICKS_D,"{:.1f}","#96282f","#2c5e3c","Peak frequency (Hz)",1414)
layers += colorbar(2635,2672,1562,2205,.1,.6,SF_RAMP,"sf",SF_TICKS_E,"{:.1f}","#e8df3c","#3b2560","Shape factor",2832)

# panel letters
layers.append(text([(58,62,"a"),(1538,62,"b"),(1265,1009,"c"),(58,1363,"d"),(2493,1363,"e")], 76, weight="bold"))

chart = alt.layer(*layers).resolve_scale(color="independent", stroke="independent", size="independent").properties(
    width=W-16, height=H-16, padding=0, autosize=alt.AutoSizeParams(type="none"),
).configure_view(stroke=None)
chart.save("out.html", embed_options={"renderer": "svg", "actions": False})
